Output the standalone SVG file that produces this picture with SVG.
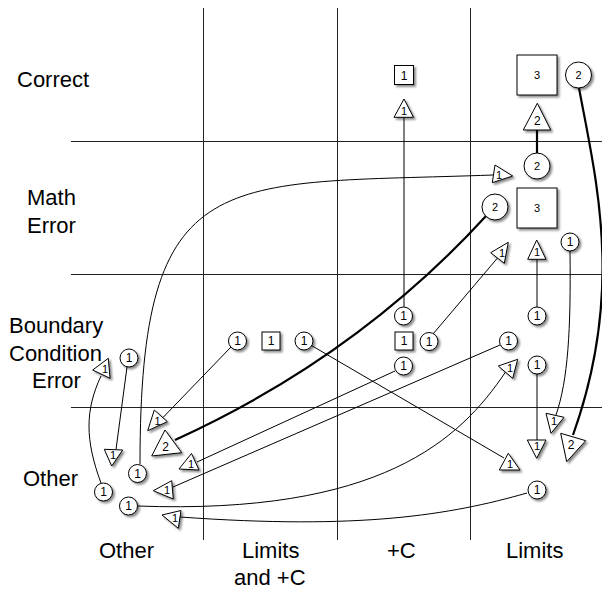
<svg xmlns="http://www.w3.org/2000/svg" width="602" height="589" viewBox="0 0 602 589">
<style>
.grid{stroke:#222;stroke-width:1;fill:none}
.lbl{font-family:"Liberation Sans",Arial,Helvetica,sans-serif;font-size:22px;fill:#000}
.n{fill:#fff;stroke:#000;stroke-width:1;filter:url(#sh)}
.t{font-family:"Liberation Sans",Arial,Helvetica,sans-serif;font-size:11px;fill:#000;text-anchor:middle}
.t12{font-size:12px}
.e{fill:none;stroke:#000;stroke-width:1}
.thick{stroke-width:2.2}
</style>
<defs>
<filter id="sh" x="-30%" y="-30%" width="170%" height="170%">
<feDropShadow dx="2" dy="2" stdDeviation="1.3" flood-color="#000" flood-opacity="0.45"/>
</filter>
</defs>
<rect width="602" height="589" fill="#fff"/>
<g id="grid">
<path class="grid" d="M203.5,8V540M337.5,8V540M470.5,8V540M71,141.5H602M71,274.5H602M71,407.5H602"/>
</g>
<g id="labels">
<text class="lbl" x="17" y="87">Correct</text>
<text class="lbl" x="27" y="205">Math</text>
<text class="lbl" x="27" y="233">Error</text>
<text class="lbl" x="9" y="333">Boundary</text>
<text class="lbl" x="9" y="361">Condition</text>
<text class="lbl" x="32" y="388">Error</text>
<text class="lbl" x="23" y="486">Other</text>
<text class="lbl" x="99" y="558">Other</text>
<text class="lbl" x="242" y="558">Limits</text>
<text class="lbl" x="234" y="585">and +C</text>
<text class="lbl" x="387" y="558">+C</text>
<text class="lbl" x="506" y="558">Limits</text>
</g>
<g id="connectors">
<path class="e" d="M404,307L404,117.5"/>
<path class="e thick" d="M537,130L537,153"/>
<path class="e thick" d="M579,88C596,180 625,290 573,435"/>
<path class="e thick" d="M486,216Q357,357 175,440"/>
<path class="e" d="M140,464C140,160 220,185 493,175"/>
<path class="e" d="M537,259.5L537,307"/>
<path class="e" d="M570,251C571,330 568,380 556,415"/>
<path class="e" d="M433,334L497.5,258"/>
<path class="e" d="M231,347L163,417.5"/>
<path class="e" d="M311.5,345.5L504,458"/>
<path class="e" d="M395,371L197,462"/>
<path class="e" d="M500,345L173,487"/>
<path class="e" d="M137,506C380,515 460,440 505.5,372"/>
<path class="e" d="M537,374L537,440"/>
<path class="e" d="M527,493C450,515 360,530 180,517"/>
<path class="e" d="M127,367L116,449.5"/>
<path class="e" d="M101,376C85,410 85,440 101,483"/>
</g>
<g id="n1"><rect class="n" x="394.5" y="65.5" width="19" height="19"/><text class="t t12" x="404" y="79.5">1</text></g>
<g id="n2"><polygon class="n" points="404,99 394,117.3 413.5,117.3"/><text class="t" x="404" y="115">1</text></g>
<g id="n3"><rect class="n" x="517" y="55" width="40" height="40"/><text class="t" x="537" y="79">3</text></g>
<g id="n4"><circle class="n" cx="578.5" cy="75" r="13"/><text class="t" x="578.5" y="79">2</text></g>
<g id="n5"><polygon class="n" points="537.3,103.3 523.3,130 550.7,130"/><text class="t t12" x="537.3" y="124.5">2</text></g>
<g id="n6"><circle class="n" cx="537" cy="166" r="13"/><text class="t" x="537" y="170">2</text></g>
<g id="n7"><polygon class="n" points="495,165 492.3,182.7 512.7,176"/><text class="t" x="499" y="179">1</text></g>
<g id="n8"><circle class="n" cx="495" cy="207" r="13"/><text class="t" x="495" y="211">2</text></g>
<g id="n9"><rect class="n" x="517" y="188" width="40" height="40"/><text class="t" x="537" y="212">3</text></g>
<g id="n10"><polygon class="n" points="490.7,252.7 508.3,242.3 504.3,263.3"/><text class="t" x="502" y="256.5">1</text></g>
<g id="n11"><polygon class="n" points="536.7,240 527.7,259.3 546,259.3"/><text class="t" x="537" y="256">1</text></g>
<g id="n12"><circle class="n" cx="570" cy="242" r="9"/><text class="t t12" x="570" y="246.3">1</text></g>
<g id="n13"><circle class="n" cx="237.5" cy="341" r="9"/><text class="t t12" x="237.5" y="345.3">1</text></g>
<g id="n14"><rect class="n" x="262" y="332" width="18" height="18"/><text class="t t12" x="271" y="345.3">1</text></g>
<g id="n15"><circle class="n" cx="304" cy="341" r="9"/><text class="t t12" x="304" y="345.3">1</text></g>
<g id="n16"><circle class="n" cx="403.5" cy="316" r="9"/><text class="t t12" x="403.5" y="320.3">1</text></g>
<g id="n17"><rect class="n" x="395" y="332" width="18" height="18"/><text class="t t12" x="404" y="345.3">1</text></g>
<g id="n18"><circle class="n" cx="429" cy="341.5" r="9"/><text class="t t12" x="429" y="345.8">1</text></g>
<g id="n19"><circle class="n" cx="403.5" cy="366" r="9"/><text class="t t12" x="403.5" y="370.3">1</text></g>
<g id="n20"><circle class="n" cx="537" cy="316" r="9"/><text class="t t12" x="537" y="320.3">1</text></g>
<g id="n21"><circle class="n" cx="508.5" cy="341" r="9"/><text class="t t12" x="508.5" y="345.3">1</text></g>
<g id="n22"><polygon class="n" points="498.3,366 517.7,359.3 512.7,378.3"/><text class="t" x="510" y="372">1</text></g>
<g id="n23"><circle class="n" cx="537" cy="365" r="9"/><text class="t t12" x="537" y="369.3">1</text></g>
<g id="n24"><circle class="n" cx="129" cy="358" r="9"/><text class="t t12" x="129" y="362.3">1</text></g>
<g id="n25"><polygon class="n" points="92.7,370 108.3,358.3 110,378.3"/><text class="t" x="105" y="373">1</text></g>
<g id="n26"><polygon class="n" points="154.3,410 167.3,421.7 147.7,430.7"/><text class="t" x="157.5" y="425">1</text></g>
<g id="n27"><polygon class="n" points="165,430 151.7,456 181.7,452.7"/><text class="t t12" x="165.5" y="450.5">2</text></g>
<g id="n28"><polygon class="n" points="191.5,453.5 179,469 199,470"/><text class="t" x="191" y="468">1</text></g>
<g id="n29"><polygon class="n" points="153.3,490.7 171.7,480.7 173.3,499"/><text class="t" x="167" y="494">1</text></g>
<g id="n30"><polygon class="n" points="162,515 181,510.5 178.3,528.3"/><text class="t" x="175" y="522">1</text></g>
<g id="n31"><circle class="n" cx="137.5" cy="473.5" r="9"/><text class="t t12" x="137.5" y="477.8">1</text></g>
<g id="n32"><circle class="n" cx="103.5" cy="492" r="9"/><text class="t t12" x="103.5" y="496.3">1</text></g>
<g id="n33"><circle class="n" cx="128.5" cy="506" r="9"/><text class="t t12" x="128.5" y="510.3">1</text></g>
<g id="n34"><polygon class="n" points="104.3,449.3 122.7,450 111.7,466"/><text class="t" x="113" y="459">1</text></g>
<g id="n35"><polygon class="n" points="499.3,470 520,470 508.3,453.3"/><text class="t" x="510" y="468">1</text></g>
<g id="n36"><polygon class="n" points="527.3,440 546,440 536.7,458.3"/><text class="t" x="537" y="450">1</text></g>
<g id="n37"><polygon class="n" points="546,413.3 564,417.3 551,433.3"/><text class="t" x="554" y="425">1</text></g>
<g id="n38"><polygon class="n" points="560.7,433.3 585.7,440.7 566.7,461.7"/><text class="t t12" x="571" y="449">2</text></g>
<g id="n39"><circle class="n" cx="537" cy="490" r="9"/><text class="t t12" x="537" y="494.3">1</text></g>
</svg>
